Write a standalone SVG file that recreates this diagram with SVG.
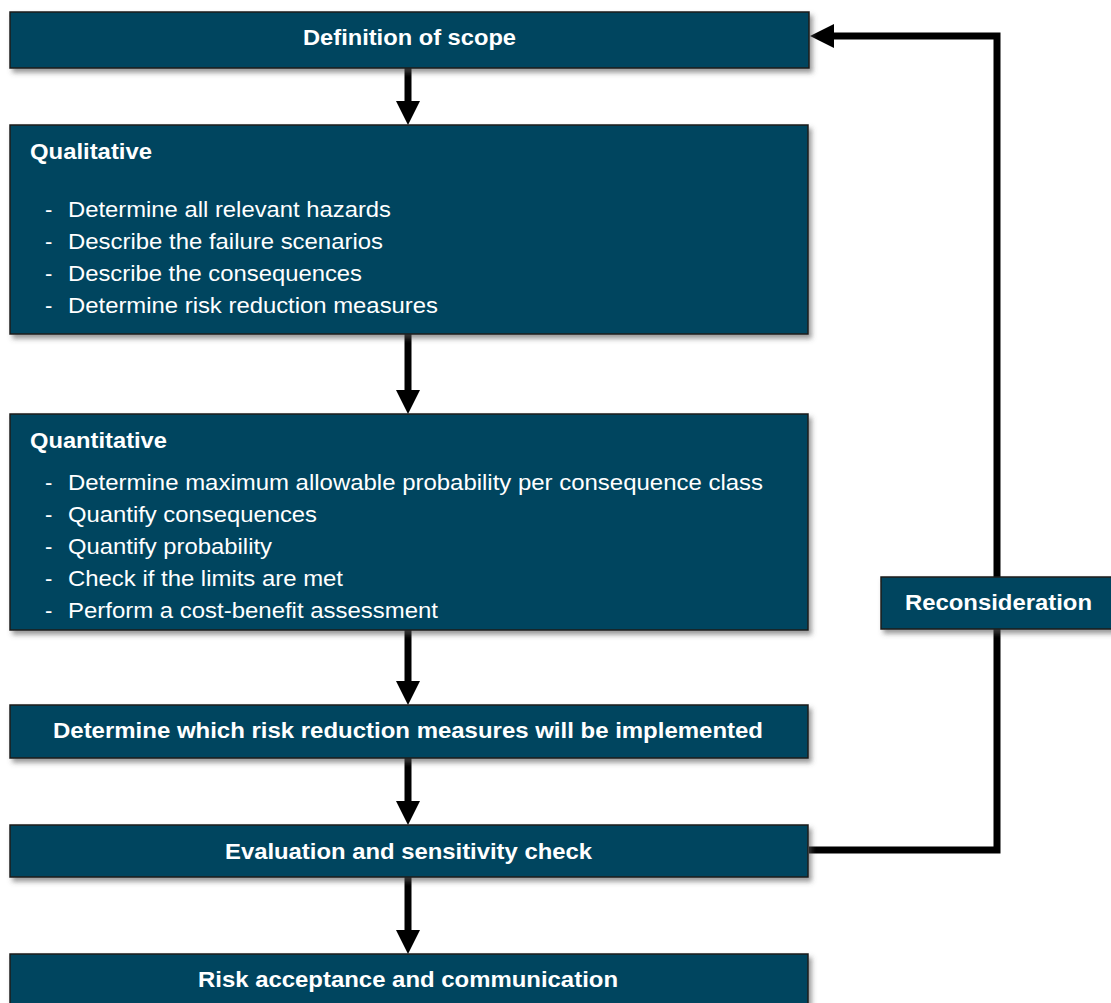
<svg xmlns="http://www.w3.org/2000/svg" width="1111" height="1003" viewBox="0 0 1111 1003">
<style>
.box{fill:#01455e;stroke:#1b1b1b;stroke-width:1.5;filter:url(#sh)}
.t{font-family:"Liberation Sans",Arial,sans-serif;fill:#ffffff;font-size:22px}
.b{font-weight:bold}
.c{text-anchor:middle}
.con{stroke:#000;stroke-width:7;fill:none}
</style>
<defs>
<filter id="sh" x="-5%" y="-20%" width="110%" height="150%">
<feDropShadow dx="3" dy="4" stdDeviation="2.5" flood-color="#555" flood-opacity="0.6"/>
</filter>
<marker id="ah" markerUnits="userSpaceOnUse" markerWidth="24" markerHeight="24" refX="2" refY="12" orient="auto" viewBox="0 0 24 24">
<path d="M0,0 L24,12 L0,24 Z" fill="#000"/>
</marker>
</defs>
<g id="connectors">
<line class="con" x1="408" y1="68" x2="408" y2="103" marker-end="url(#ah)"/>
<line class="con" x1="408" y1="334" x2="408" y2="392" marker-end="url(#ah)"/>
<line class="con" x1="408" y1="630" x2="408" y2="683" marker-end="url(#ah)"/>
<line class="con" x1="408" y1="758" x2="408" y2="803" marker-end="url(#ah)"/>
<line class="con" x1="408" y1="877" x2="408" y2="932" marker-end="url(#ah)"/>
<polyline class="con" points="809,850 997,850 997,36 832,36" marker-end="url(#ah)"/>
</g>
<g id="n1">
<rect class="box" x="10" y="12" width="799" height="56"/>
<text class="t b c" x="409.5" y="45" textLength="213" lengthAdjust="spacingAndGlyphs">Definition of scope</text>
</g>
<g id="n2">
<rect class="box" x="10" y="125" width="798" height="209"/>
<text class="t b" x="30" y="159" textLength="122" lengthAdjust="spacingAndGlyphs">Qualitative</text>
<text class="t" x="45" y="217">-</text><text class="t" x="68" y="217" textLength="323" lengthAdjust="spacingAndGlyphs">Determine all relevant hazards</text>
<text class="t" x="45" y="249">-</text><text class="t" x="68" y="249" textLength="315" lengthAdjust="spacingAndGlyphs">Describe the failure scenarios</text>
<text class="t" x="45" y="281">-</text><text class="t" x="68" y="281" textLength="294" lengthAdjust="spacingAndGlyphs">Describe the consequences</text>
<text class="t" x="45" y="313">-</text><text class="t" x="68" y="313" textLength="370" lengthAdjust="spacingAndGlyphs">Determine risk reduction measures</text>
</g>
<g id="n3">
<rect class="box" x="10" y="414" width="798" height="216"/>
<text class="t b" x="30" y="448" textLength="137" lengthAdjust="spacingAndGlyphs">Quantitative</text>
<text class="t" x="45" y="490">-</text><text class="t" x="68" y="490" textLength="695" lengthAdjust="spacingAndGlyphs">Determine maximum allowable probability per consequence class</text>
<text class="t" x="45" y="522">-</text><text class="t" x="68" y="522" textLength="249" lengthAdjust="spacingAndGlyphs">Quantify consequences</text>
<text class="t" x="45" y="554">-</text><text class="t" x="68" y="554" textLength="204" lengthAdjust="spacingAndGlyphs">Quantify probability</text>
<text class="t" x="45" y="586">-</text><text class="t" x="68" y="586" textLength="275" lengthAdjust="spacingAndGlyphs">Check if the limits are met</text>
<text class="t" x="45" y="618">-</text><text class="t" x="68" y="618" textLength="370" lengthAdjust="spacingAndGlyphs">Perform a cost-benefit assessment</text>
</g>
<g id="n4">
<rect class="box" x="10" y="705" width="798" height="53"/>
<text class="t b c" x="408" y="738" textLength="710" lengthAdjust="spacingAndGlyphs">Determine which risk reduction measures will be implemented</text>
</g>
<g id="n5">
<rect class="box" x="10" y="825" width="798" height="52"/>
<text class="t b c" x="408.5" y="859" textLength="367" lengthAdjust="spacingAndGlyphs">Evaluation and sensitivity check</text>
</g>
<g id="n6">
<rect class="box" x="10" y="954" width="798" height="60"/>
<text class="t b c" x="408" y="987" textLength="420" lengthAdjust="spacingAndGlyphs">Risk acceptance and communication</text>
</g>
<g id="n7">
<rect class="box" x="881" y="577" width="240" height="52"/>
<text class="t b c" x="998.5" y="610" textLength="187" lengthAdjust="spacingAndGlyphs">Reconsideration</text>
</g>
</svg>
